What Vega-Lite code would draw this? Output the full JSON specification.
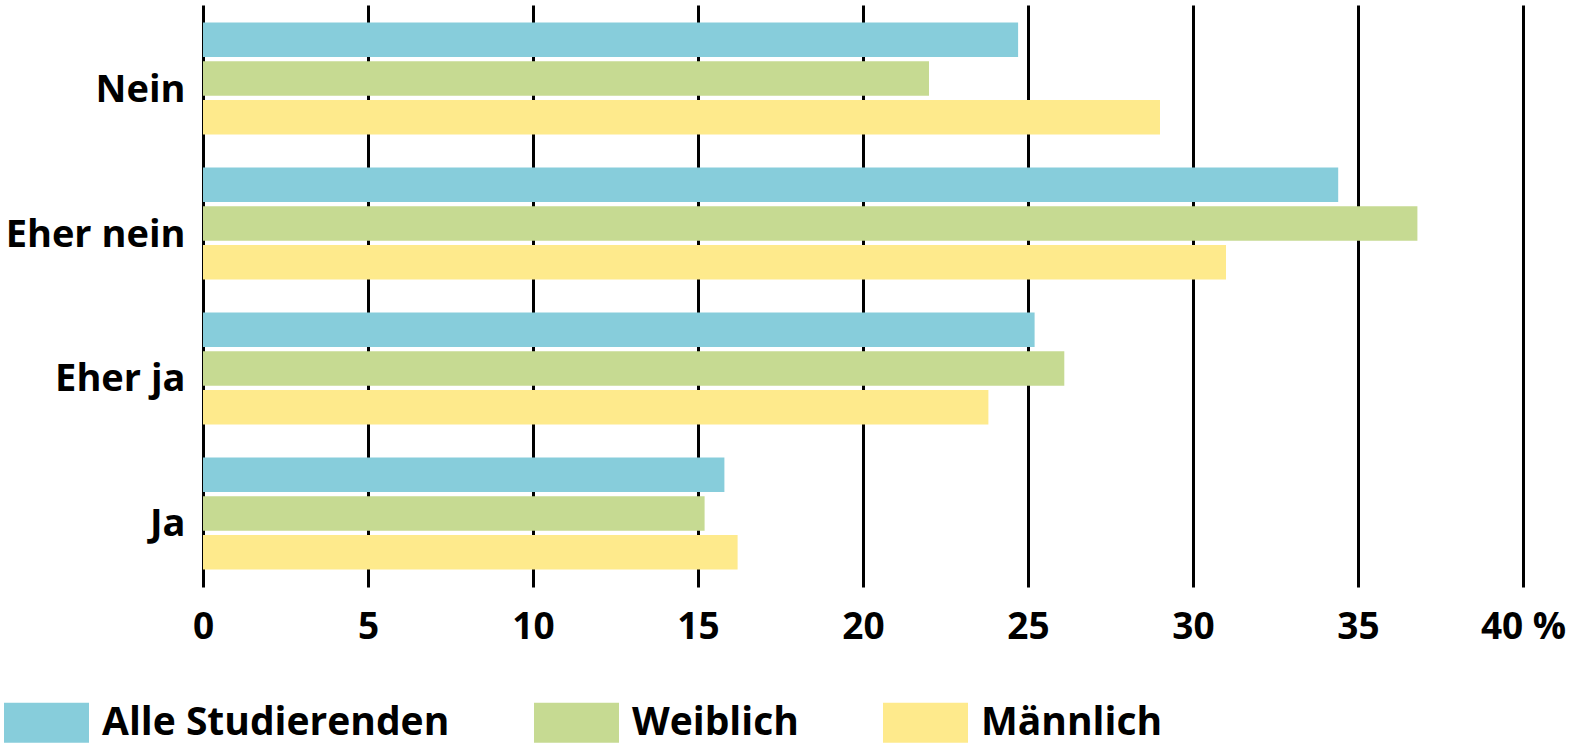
{
  "$schema": "https://vega.github.io/schema/vega-lite/v6.json",
  "autosize": "none",
  "width": 1320,
  "height": 582,
  "padding": {"left": 203, "top": 5, "right": 58, "bottom": 163},
  "background": "white",
  "config": {
    "view": {"stroke": null},
    "font": "Open Sans"
  },
  "data": {
    "values": [
      {"antwort": "Nein", "gruppe": "Alle Studierenden", "wert": 24.7},
      {"antwort": "Nein", "gruppe": "Weiblich", "wert": 22.0},
      {"antwort": "Nein", "gruppe": "Männlich", "wert": 29.0},
      {"antwort": "Eher nein", "gruppe": "Alle Studierenden", "wert": 34.4},
      {"antwort": "Eher nein", "gruppe": "Weiblich", "wert": 36.8},
      {"antwort": "Eher nein", "gruppe": "Männlich", "wert": 31.0},
      {"antwort": "Eher ja", "gruppe": "Alle Studierenden", "wert": 25.2},
      {"antwort": "Eher ja", "gruppe": "Weiblich", "wert": 26.1},
      {"antwort": "Eher ja", "gruppe": "Männlich", "wert": 23.8},
      {"antwort": "Ja", "gruppe": "Alle Studierenden", "wert": 15.8},
      {"antwort": "Ja", "gruppe": "Weiblich", "wert": 15.2},
      {"antwort": "Ja", "gruppe": "Männlich", "wert": 16.2}
    ]
  },
  "mark": {"type": "bar"},
  "encoding": {
    "y": {
      "field": "antwort",
      "type": "nominal",
      "sort": ["Nein", "Eher nein", "Eher ja", "Ja"],
      "scale": {"paddingInner": 0.228, "paddingOuter": 0.121},
      "axis": {
        "title": null,
        "domain": false,
        "ticks": false,
        "labelFont": "Open Sans",
        "labelFontWeight": "bold",
        "labelFontSize": 38,
        "labelColor": "black",
        "labelPadding": 18,
        "labelBaseline": "alphabetic",
        "labelOffset": 23
      }
    },
    "yOffset": {
      "field": "gruppe",
      "type": "nominal",
      "sort": ["Alle Studierenden", "Weiblich", "Männlich"],
      "scale": {"paddingInner": 0.106, "paddingOuter": 0}
    },
    "x": {
      "field": "wert",
      "type": "quantitative",
      "scale": {"domain": [0, 40], "nice": false},
      "axis": {
        "title": null,
        "values": [0, 5, 10, 15, 20, 25, 30, 35, 40],
        "labelExpr": "datum.value == 40 ? '40 %' : datum.label",
        "domain": false,
        "ticks": false,
        "grid": true,
        "gridColor": "black",
        "gridWidth": 3,
        "gridOpacity": 1,
        "labelFont": "Open Sans",
        "labelFontWeight": "bold",
        "labelFontSize": 37,
        "labelColor": "black",
        "labelBaseline": "alphabetic",
        "labelPadding": 51,
        "labelFlush": false,
        "labelOverlap": false
      }
    },
    "color": {
      "field": "gruppe",
      "type": "nominal",
      "sort": ["Alle Studierenden", "Weiblich", "Männlich"],
      "scale": {
        "domain": ["Alle Studierenden", "Weiblich", "Männlich"],
        "range": ["#87CDDB", "#C6DA92", "#FEEA8C"]
      },
      "legend": {
        "title": null,
        "orient": "none",
        "direction": "horizontal",
        "legendX": -199,
        "legendY": 675,
        "padding": 0,
        "symbolType": "M-1,-0.47H1V0.47H-1Z",
        "symbolSize": 7225,
        "symbolStrokeWidth": 0,
        "symbolOpacity": 1,
        "labelFont": "Open Sans",
        "labelFontWeight": "bold",
        "labelFontSize": 39,
        "labelColor": "black",
        "labelOffset": 13,
        "columnPadding": 84,
        "labelLimit": 600
      }
    }
  }
}
